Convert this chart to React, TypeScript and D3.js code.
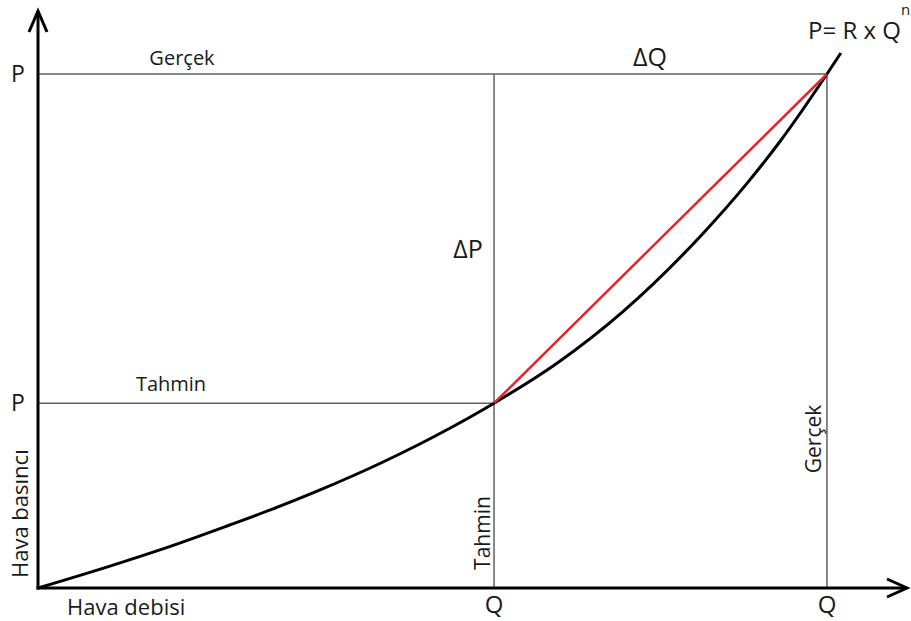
import * as d3 from "d3";

// flow (Q) and pressure (P), in chart units
const curveQ = [0, 8.3, 14.4, 22.1, 26.8, 32.2, 39.8, 47.5, 52.6, 59.9, 67.5, 76.7, 81.8, 85.6, 91.0, 92.6];
const curveP = [0, 3.8, 6.78, 10.92, 13.54, 16.79, 21.84, 27.69, 32.03, 39.0, 47.95, 61.45, 70.17, 77.43, 89.08, 92.72];

// estimated and real operating points
const pointLabels = ["Tahmin", "Gerçek"];
const pointQ = [52.6, 91.0];
const pointP = [32.03, 89.08];

const width = 911;
const height = 621;

function App() {
	const x = d3.scaleLinear().domain([0, 100]).range([38, 905]);
	const y = d3.scaleLinear().domain([0, 100]).range([588, 11]);

	const pts = curveQ.map((q, i) => [q, curveP[i]] as [number, number]);
	const line = d3
		.line<[number, number]>()
		.x((d) => x(d[0]))
		.y((d) => y(d[1]))
		.curve(d3.curveMonotoneX);

	const font = "'Open Sans', 'Noto Sans', sans-serif";
	const txt = "#1a1a1a";
	const x0 = x(0);
	const y0 = y(0);
	const [qT, qG] = pointQ.map(x);
	const [pT, pG] = pointP.map(y);

	return (
		<svg
			width={width}
			height={height}
			style={{ position: "absolute", left: 0, top: 0, background: "#fff" }}
			fontFamily={font}
		>
			{/* guide lines */}
			<line x1={x0} x2={qG} y1={pG} y2={pG} stroke="#606060" strokeWidth={1.5} />
			<line x1={x0} x2={qT} y1={pT} y2={pT} stroke="#606060" strokeWidth={1.5} />
			<line x1={qT} x2={qT} y1={pG} y2={y0} stroke="#606060" strokeWidth={1.5} />
			<line x1={qG} x2={qG} y1={pG} y2={y0} stroke="#111" strokeWidth={1} />

			{/* curve and chord */}
			<path d={line(pts) || ""} fill="none" stroke="#000" strokeWidth={3} />
			<line x1={qT} y1={pT} x2={qG} y2={pG} stroke="#e8212a" strokeWidth={2.5} />

			{/* axes */}
			<line x1={x0} x2={x0} y1={y0 + 1.5} y2={11} stroke="#000" strokeWidth={3} />
			<line x1={x0 - 1.5} x2={907} y1={y0} y2={y0} stroke="#000" strokeWidth={3} />
			<polyline points={`${x0 - 9},32 ${x0},11 ${x0 + 9},32`} fill="none" stroke="#000" strokeWidth={3} />
			<polyline points={`887,579 907,${y0} 887,597`} fill="none" stroke="#000" strokeWidth={3} />

			{/* P labels */}
			<text x={18} y={pG} dy="0.35em" textAnchor="middle" fontSize={23} fill={txt}>P</text>
			<text x={18} y={pT} dy="0.35em" textAnchor="middle" fontSize={23} fill={txt}>P</text>
			<text x={182} y={65} textAnchor="middle" fontSize={20} fill={txt}>{pointLabels[1]}</text>
			<text x={171} y={391} textAnchor="middle" fontSize={20} fill={txt}>{pointLabels[0]}</text>

			{/* Q labels */}
			{pointQ.map((q, i) => (
				<text key={i} x={x(q)} y={613} textAnchor="middle" fontSize={24} fill={txt}>Q</text>
			))}
			<text
				transform={`translate(${qT - 4},533) rotate(-90)`}
				textAnchor="middle"
				fontSize={21}
				fill={txt}
			>
				{pointLabels[0]}
			</text>
			<text
				transform={`translate(${qG - 6},439) rotate(-90)`}
				textAnchor="middle"
				fontSize={21}
				fill={txt}
			>
				{pointLabels[1]}
			</text>

			{/* deltas */}
			<text x={468} y={258} textAnchor="middle" fontSize={25} fill={txt}>ΔP</text>
			<text x={650} y={66} textAnchor="middle" fontSize={25} fill={txt}>ΔQ</text>

			{/* formula */}
			<text x={808} y={39} fontSize={24} fill={txt}>P= R x Q</text>
			<text x={901} y={15} fontSize={15} fill={txt}>n</text>

			{/* axis titles */}
			<text x={67} y={615} fontSize={22} fill={txt}>Hava debisi</text>
			<text
				transform={`translate(28,578) rotate(-90)`}
				textAnchor="start"
				fontSize={22}
				fill={txt}
			>
				Hava basıncı
			</text>
		</svg>
	);
}

export default App;
